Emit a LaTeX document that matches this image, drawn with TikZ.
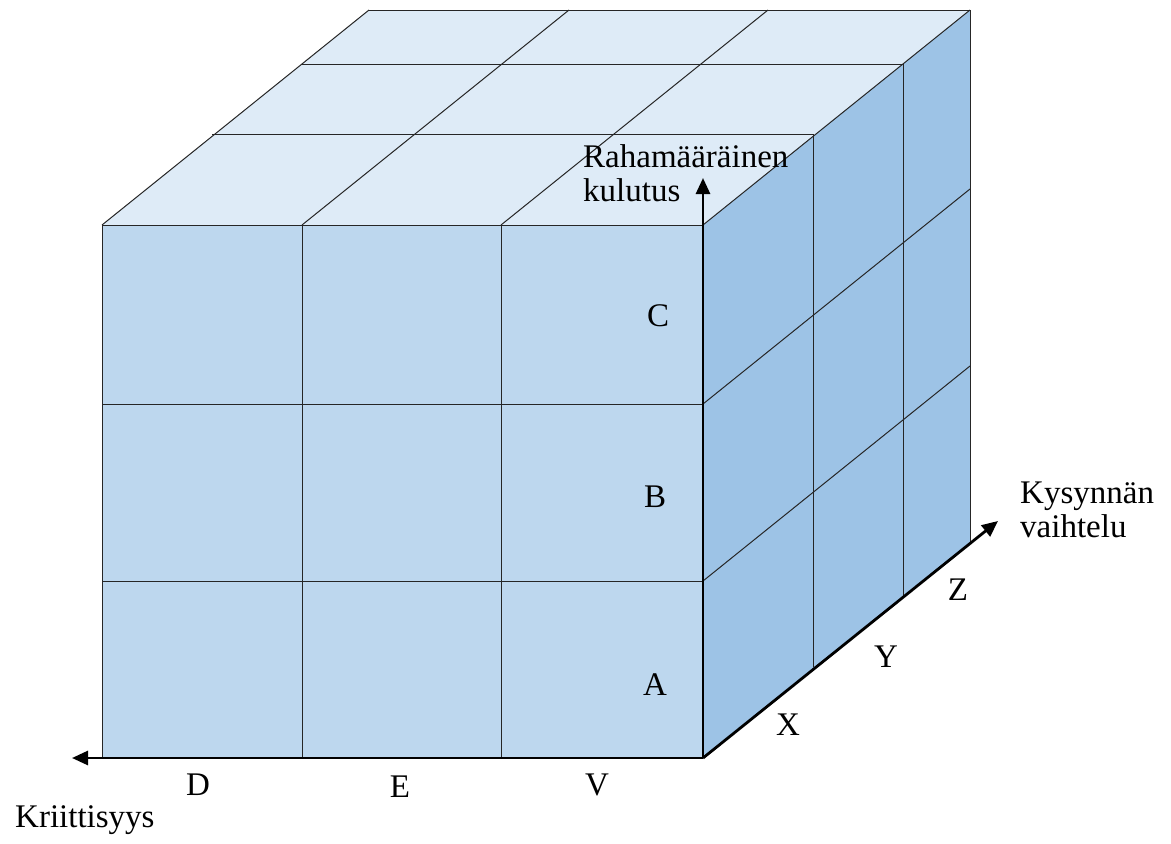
\documentclass[tikz,border=0pt]{standalone}
\usepackage{fontspec}
\setmainfont{Liberation Serif}
\usetikzlibrary{arrows.meta}
\definecolor{frontc}{HTML}{BDD7EE}
\definecolor{topc}{HTML}{DEEBF7}
\definecolor{sidec}{HTML}{9DC3E6}
\tikzset{
  grid/.style={line width=1pt, draw=black!85},
  axis/.style={line width=2.8pt, draw=black, -{Triangle[width=14pt,length=16pt]}},
  lbl/.style={inner sep=0pt, font=\fontsize{33}{34}\selectfont},
}
\begin{document}
\begin{tikzpicture}[x=1pt,y=-1pt]
\useasboundingbox (0,0) rectangle (1171,844);
% faces
\fill[frontc] (102,225) rectangle (703,758);
\fill[topc] (102,225) -- (703,225) -- (970,10) -- (369,10) -- cycle;
\fill[sidec] (703,225) -- (970,10) -- (970,543) -- (703,758) -- cycle;
% front grid
\foreach \x in {102,302,501} \draw[grid] (\x,225) -- (\x,758);
\foreach \y in {225,404,581} \draw[grid] (102,\y) -- (703,\y);
% top grid
\foreach \dx/\dy in {110/-91,200/-161,267/-215}
  \draw[grid] (102+\dx,225+\dy) -- (703+\dx,225+\dy);
\foreach \x in {102,302,501,703} \draw[grid] (\x,225) -- (\x+267,10);
% right grid
\foreach \dx/\dy in {110/-91,200/-161,267/-215}
  \draw[grid] (703+\dx,225+\dy) -- (703+\dx,758+\dy);
\foreach \y in {404,581} \draw[grid] (703,\y) -- (970,\y-215);
% axes
\coordinate (O) at (703,758);
\coordinate (tipL) at (72,758);
\coordinate (tipU) at (703,178);
\coordinate (tipD) at (998,521);
\draw[axis] (O) -- (tipL);
\draw[axis] (O) -- (tipU);
\draw[axis] (O) -- (tipD);
% labels
\node[lbl] (lC) at (658,316) {C};
\node[lbl] (lB) at (655,497) {B};
\node[lbl] (lA) at (655,685) {A};
\node[lbl] (lD) at (198,785) {D};
\node[lbl] (lE) at (400,787) {E};
\node[lbl] (lV) at (597,785) {V};
\node[lbl] (lX) at (788,725) {X};
\node[lbl] (lY) at (886,657) {Y};
\node[lbl] (lZ) at (958,590) {Z};
\node[lbl, anchor=west] (lK) at (15,820) {Kriittisyys};
\node[lbl, anchor=west, align=left] (lR) at (583,173) {Rahamääräinen\\kulutus};
\node[lbl, anchor=west, align=left] (lKy) at (1020,510) {Kysynnän\\vaihtelu};
\end{tikzpicture}
\end{document}
